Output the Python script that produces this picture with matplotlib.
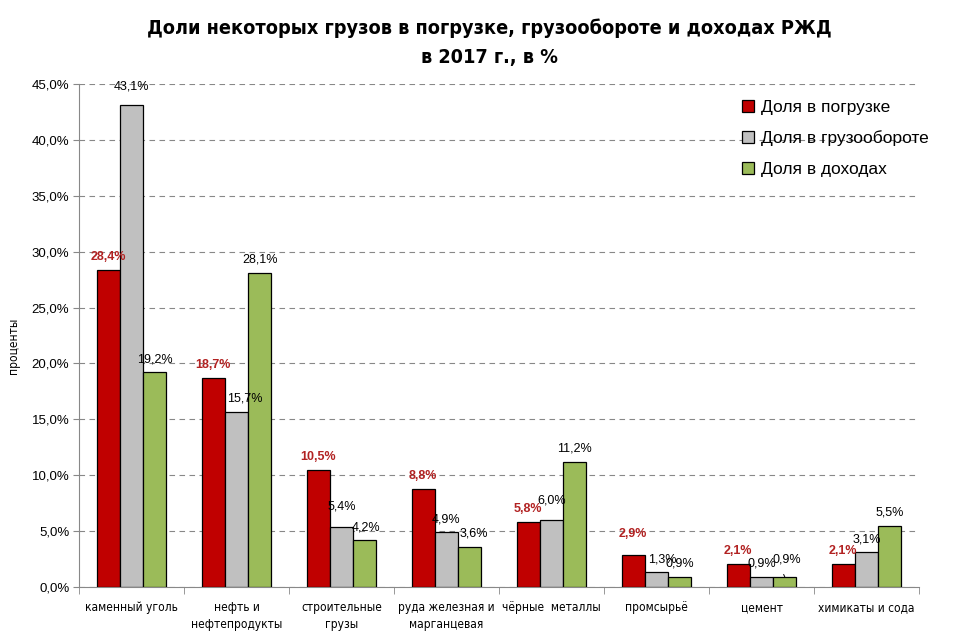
import numpy as np
import matplotlib
matplotlib.use("Agg")
import matplotlib.pyplot as plt
from matplotlib import font_manager

# данные
categories = ["каменный уголь", "нефть и\nнефтепродукты", "строительные\nгрузы",
              "руда железная и\nмарганцевая", "чёрные  металлы", "промсырьё",
              "цемент", "химикаты и сода"]
dolya_pogruzka = [28.4, 18.7, 10.5, 8.8, 5.8, 2.9, 2.1, 2.1]
dolya_gruzooborot = [43.1, 15.7, 5.4, 4.9, 6.0, 1.3, 0.9, 3.1]
dolya_dohody = [19.2, 28.1, 4.2, 3.6, 11.2, 0.9, 0.9, 5.5]
series_names = ["Доля в погрузке", "Доля в грузообороте", "Доля в доходах"]

plt.rcParams['font.family'] = ["Liberation Sans", "DejaVu Sans"]


# ищем узкий шрифт (Arial Narrow-подобный)
def find_narrow(bold=False):
    files = [f.fname for f in font_manager.fontManager.ttflist]
    prefs = ["LiberationSansNarrow-Bold" if bold else "LiberationSansNarrow-Regular",
             "DejaVuSansCondensed-Bold" if bold else "DejaVuSansCondensed."]
    for p in prefs:
        for f in files:
            if p in f.replace("\\", "/").split("/")[-1]:
                return font_manager.FontProperties(fname=f)
    return None


narrow = find_narrow(False)
narrow_b = find_narrow(True)


def props(size, bold=False):
    fp = narrow_b if bold else narrow
    if fp is None:
        return font_manager.FontProperties(family="Liberation Sans", size=size * 0.9,
                                           weight="bold" if bold else "normal")
    fp = fp.copy()
    fp.set_size(size)
    return fp


def fmt(v):
    return f"{v:.1f}%".replace(".", ",")


def main():
    fig = plt.figure(figsize=(9.78, 6.38), dpi=100)
    ax = fig.add_axes([79 / 978, 1 - 587 / 638, 840 / 978, 503 / 638])

    x = np.arange(len(categories))
    w = 0.222
    colors = ["#C00000", "#C0C0C0", "#9BBB59"]
    series = [dolya_pogruzka, dolya_gruzooborot, dolya_dohody]

    for i, (vals, c, name) in enumerate(zip(series, colors, series_names)):
        ax.bar(x + (i - 1) * w, vals, w, color=c, edgecolor="black",
               linewidth=0.9, label=name, zorder=3)

    # подписи значений (смещения в пикселях: dx, dy)
    extra = {(1, 0): (0, 6), (1, 2): (0, 7), (1, 4): (0, 6), (0, 5): (0, 8),
             (2, 6): (2, 4), (1, 1): (8, 0), (1, 5): (6, 0), (2, 3): (4, 0),
             (2, 2): (1, 0)}
    for i, vals in enumerate(series):
        for j, v in enumerate(vals):
            dx, dy = extra.get((i, j), (0, 0))
            xp = x[j] + (i - 1) * w
            if i == 0:
                kw = dict(color="#B22222", fontweight="bold")
            else:
                kw = dict(color="black")
            ax.annotate(fmt(v), (xp, v), xytext=(dx * 0.72, (13 + dy) * 0.72),
                        textcoords="offset points", ha="center", va="center",
                        fontsize=9, zorder=5, **kw)
    # выноска для цемента
    ax.annotate("", (x[6] + w, dolya_dohody[6]), xytext=(x[6] + w * 0.9, 1.35),
                arrowprops=dict(arrowstyle="-", color="black", lw=0.7))

    ax.set_xlim(-0.5, len(categories) - 0.5)
    ax.set_ylim(0, 45)
    ax.set_yticks(np.arange(0, 46, 5))
    ax.set_yticklabels([fmt(t) for t in np.arange(0, 46, 5)], fontsize=9.5)
    ax.yaxis.grid(True, linestyle=(0, (5, 4)), color="#888888", linewidth=0.8, zorder=0)

    ax.set_xticks(x)
    ax.set_xticklabels(categories, fontproperties=props(8.6), linespacing=1.45)
    ax.set_xticks(np.arange(-0.5, len(categories), 1), minor=True)
    ax.tick_params(axis="x", which="major", length=0, pad=10)
    ax.tick_params(axis="x", which="minor", length=5, color="#888888")
    ax.tick_params(axis="y", length=4, color="#888888", pad=3)

    for s in ["top", "right"]:
        ax.spines[s].set_visible(False)
    ax.spines["left"].set_color("#888888")
    ax.spines["bottom"].set_color("#888888")

    ax.set_ylabel("проценты", fontproperties=props(8.6))
    ax.yaxis.set_label_coords(-59 / 840, 0.48)

    fig.text(0.5, 1 - 28 / 638, "Доли некоторых грузов в погрузке, грузообороте и доходах РЖД",
             ha="center", va="center", fontproperties=props(14.2, True))
    fig.text(0.5, 1 - 57 / 638, "в 2017 г., в %", ha="center", va="center",
             fontproperties=props(14.2, True))

    ax.legend(loc="upper right", bbox_to_anchor=(1.03, 1.0), frameon=False,
              fontsize=12.5, handlelength=0.7, handleheight=0.7, handletextpad=0.4,
              labelspacing=0.9)

    fig.savefig("out.png", dpi=100)


if __name__ == "__main__":
    main()
